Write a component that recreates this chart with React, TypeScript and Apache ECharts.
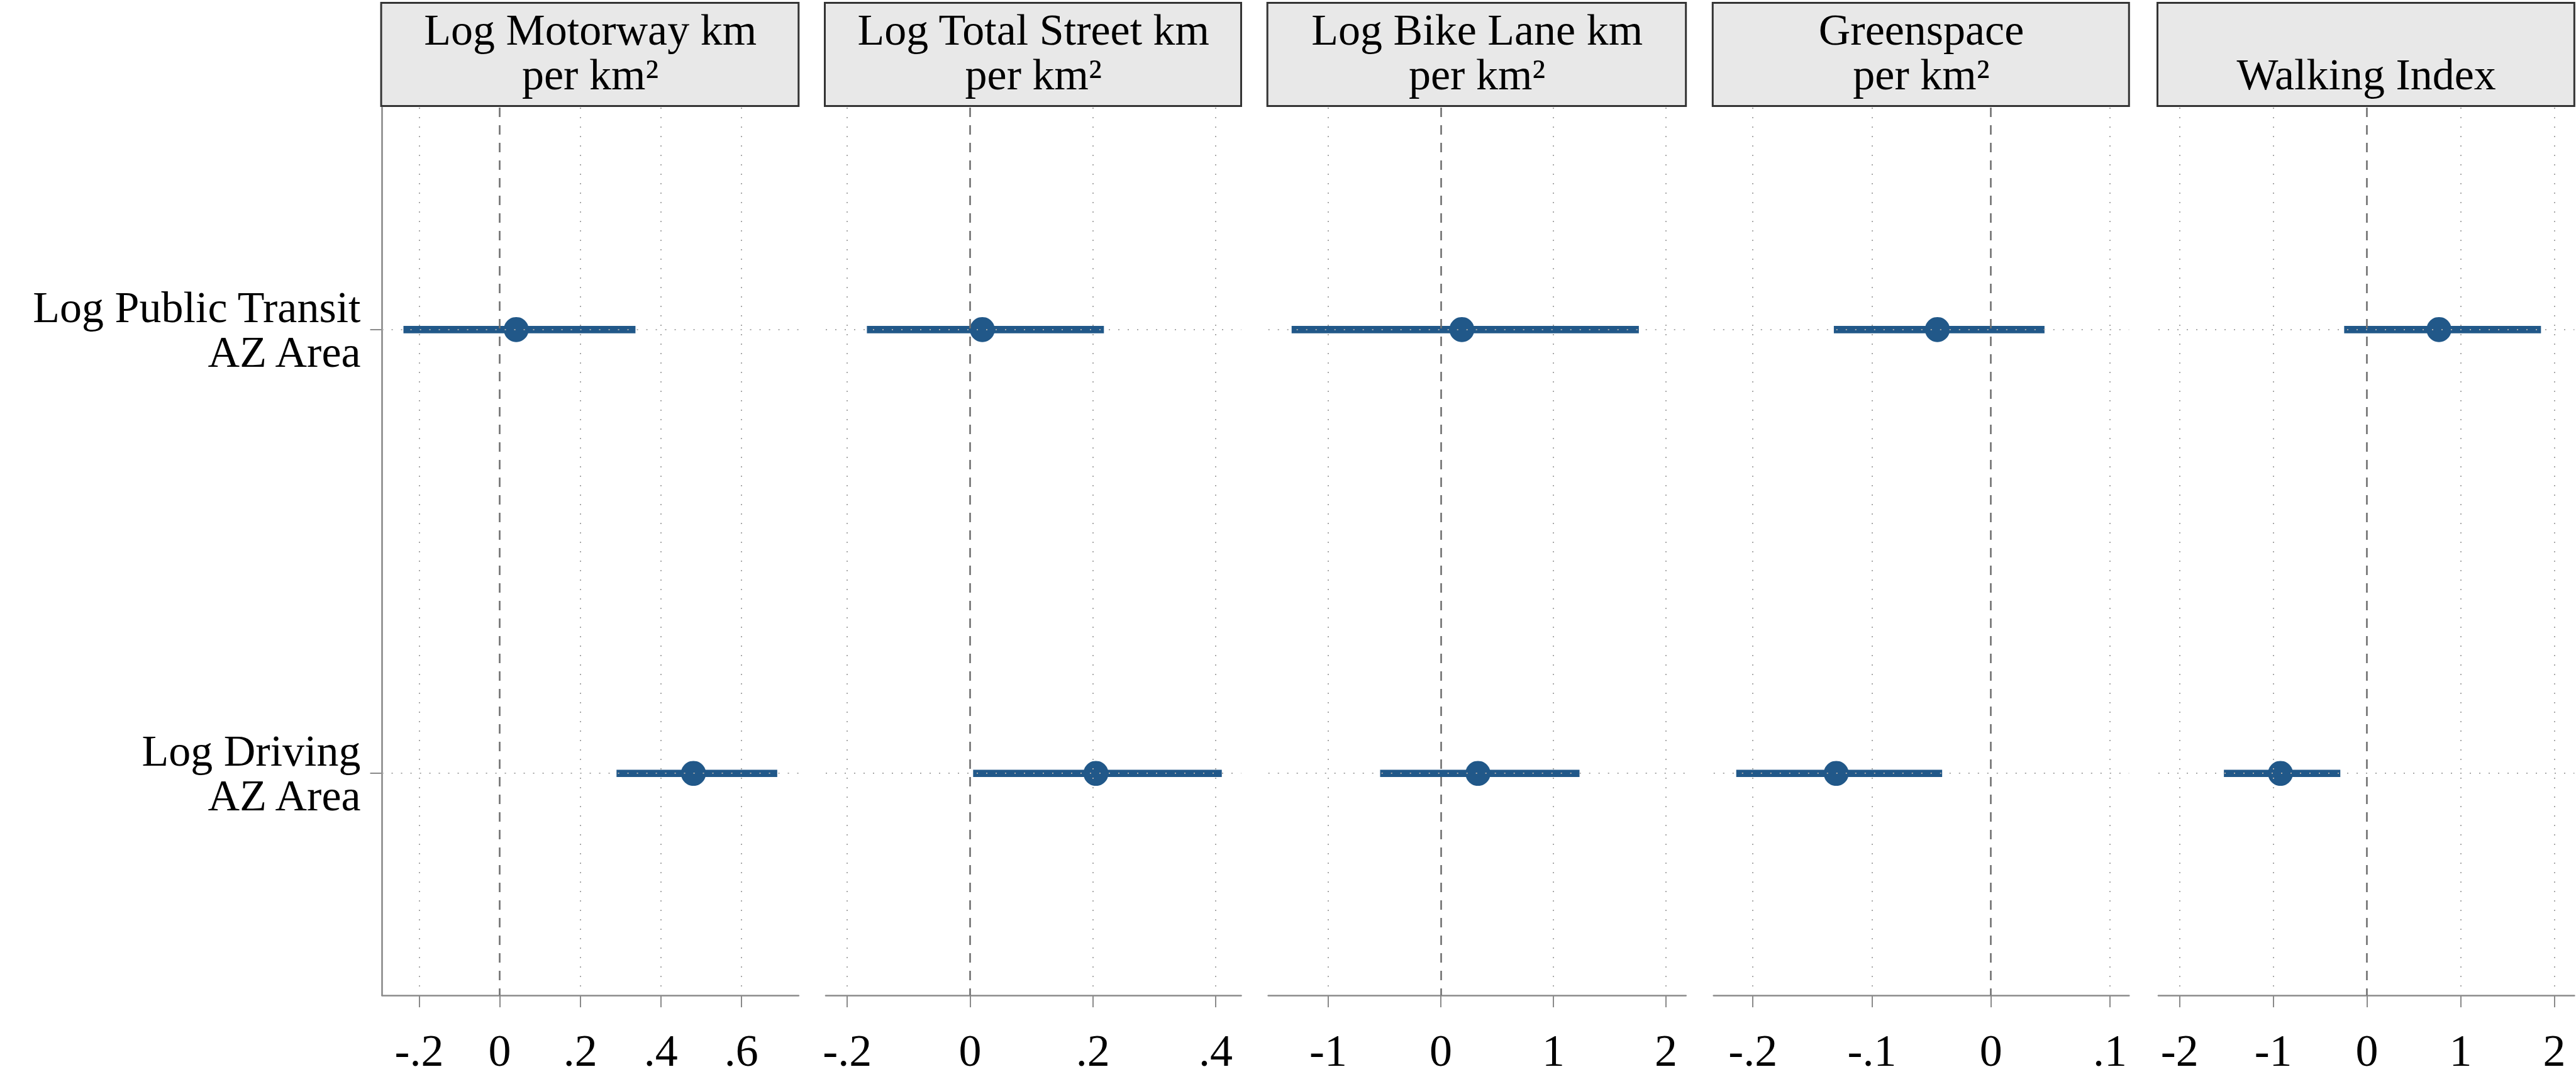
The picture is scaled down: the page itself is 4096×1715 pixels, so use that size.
import React, { useEffect, useRef } from 'react';
import * as echarts from 'echarts';

// Coefficient plot: effect of each built-environment measure on two outcomes
const outcomes = ['Log Public Transit\nAZ Area', 'Log Driving\nAZ Area'];

const panelTitles: string[][] = [
  ['Log Motorway km', 'per km²'],
  ['Log Total Street km', 'per km²'],
  ['Log Bike Lane km', 'per km²'],
  ['Greenspace', 'per km²'],
  ['', 'Walking Index'],
];

// point estimates, per panel: [public transit, driving]
const estimates: number[][] = [
  [0.041, 0.481],
  [0.02, 0.205],
  [0.187, 0.33],
  [-0.045, -0.13],
  [0.769, -0.923],
];
// lower confidence bounds
const lower: number[][] = [
  [-0.239, 0.29],
  [-0.168, 0.005],
  [-1.325, -0.539],
  [-0.132, -0.214],
  [-0.243, -1.527],
];
// upper confidence bounds
const upper: number[][] = [
  [0.337, 0.689],
  [0.218, 0.41],
  [1.759, 1.232],
  [0.045, -0.041],
  [1.858, -0.284],
];
// x-axis tick values per panel
const tickValues: number[][] = [
  [-0.2, 0, 0.2, 0.4, 0.6],
  [-0.2, 0, 0.2, 0.4],
  [-1, 0, 1, 2],
  [-0.2, -0.1, 0, 0.1],
  [-2, -1, 0, 1, 2],
];
const axisMin = [-0.292, -0.235, -1.532, -0.233, -2.226];
const axisMax = [0.742, 0.4415, 2.177, 0.116, 2.214];

// layout (design units scaled to the 4096px canvas)
const W = 4096;
const H = 1715;
const S = 4096 / 4645;
const panelLeft = [689, 1489, 2287, 3090, 3892].map((v) => v * S);
const panelRight = [1440, 2238, 3040, 3839, 4642].map((v) => v * S);
const plotTop = 194 * S;
const plotBottom = 1794 * S;
const headerTop = 5 * S;
const headerBottom = 191 * S;
const titleLineY = [53.5 * S, 134 * S];

const FONT = '"Liberation Serif", "Times New Roman", serif';
const BLUE = '#215889';
const AXIS_GRAY = '#8a8a8a';
const GRID_GRAY = '#a8a8a8';

const fmtTick = (v: number) => {
  if (v === 0) return '0';
  const s = String(Math.round(v * 10) / 10);
  return s.replace(/^(-?)0\./, '$1.');
};

export default function App() {
  const ref = useRef<HTMLDivElement>(null);

  useEffect(() => {
    if (!ref.current) return;
    const chart = echarts.init(ref.current, undefined, { renderer: 'svg' });

    const grids: any[] = [];
    const xAxes: any[] = [];
    const yAxes: any[] = [];
    const series: any[] = [];
    const graphics: any[] = [];

    panelLeft.forEach((left, i) => {
      const right = panelRight[i];
      grids.push({
        left,
        top: plotTop,
        width: right - left,
        height: plotBottom - plotTop,
        containLabel: false,
      });

      xAxes.push({
        type: 'value',
        gridIndex: i,
        min: axisMin[i],
        max: axisMax[i],
        axisLine: { show: true, onZero: false, lineStyle: { color: AXIS_GRAY, width: 2.6 } },
        axisTick: {
          show: true,
          customValues: tickValues[i],
          length: 19,
          lineStyle: { color: AXIS_GRAY, width: 2 },
        },
        axisLabel: {
          customValues: tickValues[i],
          formatter: fmtTick,
          margin: 88,
          verticalAlign: 'middle',
          fontSize: 72,
          fontFamily: FONT,
          color: '#000',
        },
        splitLine: { show: false },
      });

      if (i === 0) {
        yAxes.push({
          type: 'category',
          gridIndex: i,
          data: outcomes,
          inverse: true,
          axisLine: { show: true, onZero: false, lineStyle: { color: AXIS_GRAY, width: 2.6 } },
          axisTick: {
            show: true,
            alignWithLabel: true,
            length: 19,
            lineStyle: { color: AXIS_GRAY, width: 2 },
          },
          axisLabel: {
            margin: 34,
            fontSize: 70,
            lineHeight: 71,
            fontFamily: FONT,
            color: '#000',
            align: 'right',
            padding: [0, 0, 14, 0],
          },
          splitLine: { show: false },
        });
      } else {
        yAxes.push({
          type: 'category',
          gridIndex: i,
          data: outcomes,
          inverse: true,
          show: false,
        });
      }

      // dotted reference grid
      series.push({
        type: 'scatter',
        xAxisIndex: i,
        yAxisIndex: i,
        data: [],
        z: 1,
        markLine: {
          silent: true,
          symbol: ['none', 'none'],
          label: { show: false },
          lineStyle: { color: GRID_GRAY, type: [2, 13], width: 2 },
          data: [
            ...tickValues[i].filter((v) => v !== 0).map((v) => ({ xAxis: v })),
            ...outcomes.map((_, r) => ({ yAxis: r })),
          ],
        },
      });

      // dashed zero line
      series.push({
        type: 'scatter',
        xAxisIndex: i,
        yAxisIndex: i,
        data: [],
        z: 2,
        markLine: {
          silent: true,
          symbol: ['none', 'none'],
          label: { show: false },
          lineStyle: { color: '#707070', type: [15, 13], width: 2.6 },
          data: [{ xAxis: 0 }],
        },
      });

      // confidence intervals
      series.push({
        type: 'custom',
        xAxisIndex: i,
        yAxisIndex: i,
        z: 3,
        data: outcomes.map((_, r) => [lower[i][r], upper[i][r], r]),
        encode: { x: [0, 1], y: 2 },
        renderItem: (_params: any, api: any) => {
          const a = api.coord([api.value(0), api.value(2)]);
          const b = api.coord([api.value(1), api.value(2)]);
          return {
            type: 'line',
            shape: { x1: a[0], y1: a[1], x2: b[0], y2: b[1] },
            style: { stroke: BLUE, lineWidth: 11.7, lineCap: 'butt' },
          };
        },
      });

      // point estimates
      series.push({
        type: 'scatter',
        xAxisIndex: i,
        yAxisIndex: i,
        z: 4,
        symbol: 'circle',
        symbolSize: 39.7,
        itemStyle: { color: BLUE, opacity: 1 },
        data: outcomes.map((_, r) => [estimates[i][r], r]),
      });

      // panel header strip
      graphics.push({
        type: 'rect',
        shape: { x: left - 1.5, y: headerTop, width: right - left + 1.5, height: headerBottom - headerTop },
        style: { fill: '#e8e8e8', stroke: '#333333', lineWidth: 3 },
      });
      panelTitles[i].forEach((line, k) => {
        if (!line) return;
        graphics.push({
          type: 'text',
          x: (left + right) / 2,
          y: titleLineY[k],
          style: {
            text: line,
            fontSize: 70,
            fontFamily: FONT,
            fill: '#000',
            align: 'center',
            verticalAlign: 'middle',
          },
        });
      });
    });

    chart.setOption({
      animation: false,
      backgroundColor: '#ffffff',
      grid: grids,
      xAxis: xAxes,
      yAxis: yAxes,
      series,
      graphic: graphics,
    });

    return () => chart.dispose();
  }, []);

  return (
    <div
      ref={ref}
      style={{ position: 'absolute', left: 0, top: 0, width: W, height: H, background: '#fff' }}
    />
  );
}
